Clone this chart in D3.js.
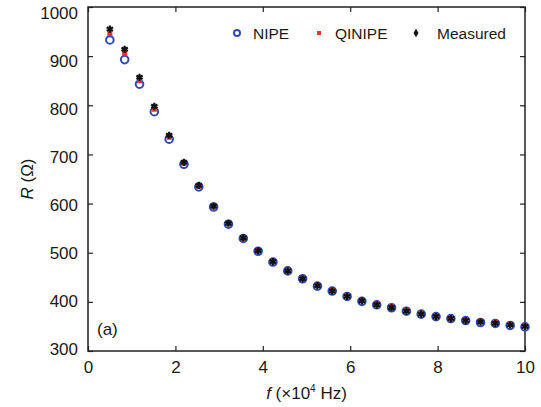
<!DOCTYPE html>
<html><head><meta charset="utf-8">
<script src="https://cdn.jsdelivr.net/npm/d3@7/dist/d3.min.js"></script>
<style>body{margin:0;background:#fff}svg{display:block}text{font-family:"Liberation Sans",Arial,sans-serif;fill:#1a1a1a}</style>
</head><body><svg id="c" width="541" height="407"></svg>
<script>
const freq = [0.5,0.839,1.179,1.518,1.857,2.196,2.536,2.875,3.214,3.554,3.893,4.232,4.571,4.911,5.25,5.589,5.929,6.268,6.607,6.946,7.286,7.625,7.964,8.304,8.643,8.982,9.321,9.661,10];
const nipe = [933,893,843,787,731,680,634,593,558,529,503,481,463,447,432,422,411,401,394,388,381,375,370,366,362,358,356,352,349];
const qinipe = [946,906,850,792,735,682,635,594,559,529,503,482,463,448,434,423,413,403,396,390,383,377,372,368,364,361,358,355,352];
const measured = [955,914,857,798,739,684,637,595,560,530,504,482,463,447,433,422,411,402,394,388,381,375,370,366,362,359,356,353,350];
const xTicks = [0,2,4,6,8,10];
const yTicks = [300,400,500,600,700,800,900,1000];
const seriesNames = ["NIPE","QINIPE","Measured"];

const svg = d3.select("#c");
const L=88,R=525,T=7,B=351;
const x = d3.scaleLinear().domain([0,10]).range([L,R]);
const y = d3.scaleLinear().domain([300,1000]).range([B,T]);
const fs = 17;

const ax = (g)=>{g.selectAll(".domain").remove(); g.selectAll("line").attr("stroke","#222").attr("stroke-width",1.2);};
svg.append("g").attr("transform",`translate(0,${B})`).call(d3.axisBottom(x).tickValues(xTicks).tickSizeInner(-5).tickSizeOuter(0).tickPadding(10).tickFormat(d3.format("d")))
  .call(ax).call(g=>g.selectAll("text").attr("font-size",fs).attr("fill","#1a1a1a"));
svg.append("g").attr("transform",`translate(0,${T})`).call(d3.axisTop(x).tickValues(xTicks).tickSizeInner(-5).tickSizeOuter(0).tickFormat(""))
  .call(ax);
svg.append("g").attr("transform",`translate(${L},0)`).call(d3.axisLeft(y).tickValues(yTicks).tickSizeInner(-5).tickSizeOuter(0).tickPadding(10).tickFormat(d3.format("d")))
  .call(ax).call(g=>g.selectAll("text").attr("font-size",fs).attr("fill","#1a1a1a")
    .attr("transform",d=>`translate(0,${-1.5 + (d-300)/700*7.5})`));
svg.append("g").attr("transform",`translate(${R},0)`).call(d3.axisRight(y).tickValues(yTicks).tickSizeInner(-5).tickSizeOuter(0).tickFormat(""))
  .call(ax);
svg.append("rect").attr("x",L).attr("y",T).attr("width",R-L).attr("height",B-T).attr("fill","none").attr("stroke","#222").attr("stroke-width",1.5);

const blue="#2d4bb0", red="#e83328", black="#111";
const gp = svg.append("g");
gp.selectAll(".n").data(freq).join("circle").attr("cx",d=>x(d)).attr("cy",(d,i)=>y(nipe[i])).attr("r",3.8)
  .attr("fill","none").attr("stroke",blue).attr("stroke-width",2);
gp.selectAll(".q").data(freq).join("rect").attr("x",d=>x(d)-2.5).attr("y",(d,i)=>y(qinipe[i])-2.5).attr("width",5).attr("height",5).attr("fill",red);
const ast = d3.symbol().type(d3.symbolAsterisk).size(36);
gp.selectAll(".m").data(freq).join("path").attr("d",ast).attr("transform",(d,i)=>`translate(${x(d)},${y(measured[i])})`)
  .attr("stroke",black).attr("stroke-width",2.2).attr("fill","none");

const ly=33;
const lg = svg.append("g");
lg.append("circle").attr("cx",237).attr("cy",ly).attr("r",3).attr("fill","none").attr("stroke",blue).attr("stroke-width",2);
lg.append("rect").attr("x",317).attr("y",ly-2).attr("width",4).attr("height",4).attr("fill",red);
lg.append("path").attr("d",d3.symbol().type(d3.symbolDiamond).size(22)).attr("transform",`translate(416,${ly})`).attr("fill",black);
[[253,seriesNames[0]],[335,seriesNames[1]],[437,seriesNames[2]]].forEach(([tx,t])=>{
  lg.append("text").attr("x",tx).attr("y",ly+5.5).attr("font-size",15.5).text(t);
});

svg.append("text").attr("x",97).attr("y",335).attr("font-size",fs).text("(a)");
const xl = svg.append("text").attr("x",(L+R)/2).attr("y",399).attr("text-anchor","middle").attr("font-size",fs);
xl.append("tspan").attr("font-style","italic").text("f");
xl.append("tspan").text(" (×10");
xl.append("tspan").attr("font-size",10).attr("dy",-7).text("4");
xl.append("tspan").attr("dy",7).text(" Hz)");
const yl = svg.append("text").attr("transform",`translate(33,${(T+B)/2}) rotate(-90)`).attr("text-anchor","middle").attr("font-size",fs);
yl.append("tspan").attr("font-style","italic").text("R");
yl.append("tspan").text(" (Ω)");
</script></body></html>
